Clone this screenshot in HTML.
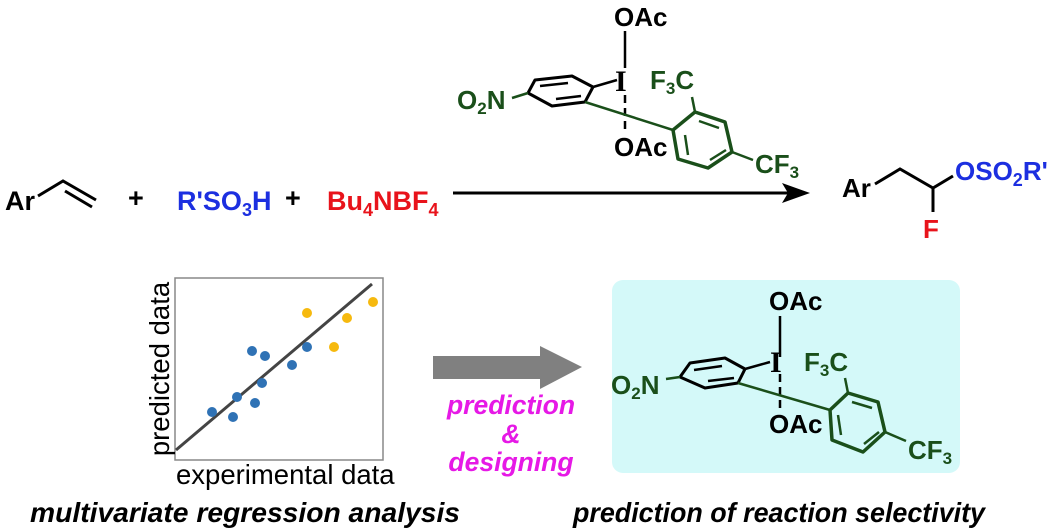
<!DOCTYPE html>
<html><head><style>body{margin:0;background:#fff}svg{display:block}</style></head>
<body>
<svg width="1063" height="530" viewBox="0 0 1063 530" font-family="Liberation Sans, sans-serif">
<g font-weight="bold" font-size="27">
<text x="5" y="210" fill="#000">Ar</text>
<text x="128" y="207" fill="#000">+</text>
<text x="177" y="210" fill="#1c2fe0">R'SO<tspan font-size="18" dy="6">3</tspan><tspan dy="-6">H</tspan></text>
<text x="285" y="207" fill="#000">+</text>
<text x="327" y="210" fill="#e8131b">Bu<tspan font-size="18" dy="6">4</tspan><tspan dy="-6">NBF</tspan><tspan font-size="18" dy="6">4</tspan></text>
</g>
<g stroke="#000" stroke-width="3" fill="none">
<polyline points="38,196 63,181 96,200"/>
<line x1="65" y1="191" x2="92" y2="207"/>
</g>
<line x1="453" y1="193" x2="790" y2="193" stroke="#000" stroke-width="3"/>
<polygon points="810,193 782,183 788,193 782,203" fill="#000"/>
<g stroke="#000" stroke-width="3" fill="none"><polyline points="875,184 900,169 933,188 953,176"/><line x1="933" y1="188" x2="933" y2="212"/></g>
<g font-weight="bold" font-size="26">
<text x="842" y="197">Ar</text>
<text x="955" y="180" fill="#1c2fe0">OSO<tspan font-size="18" dy="6">2</tspan><tspan dy="-6">R'</tspan></text>
<text x="923" y="238" fill="#e8131b">F</text>
</g>
<g>
<g font-weight="bold" font-size="26" fill="#000"><text x="614" y="26">OAc</text><text x="614" y="156">OAc</text></g>
<line x1="625" y1="31" x2="625" y2="68" stroke="#000" stroke-width="2.5"/>
<line x1="625" y1="95" x2="625" y2="132" stroke="#000" stroke-width="2.5" stroke-dasharray="8,5"/>
<text x="615" y="91" font-family="Liberation Serif, serif" font-weight="bold" font-size="30">I</text>
<g fill="#1a4f1a" font-weight="bold" font-size="26"><text x="457" y="109">O<tspan font-size="17" dy="5">2</tspan><tspan dy="-5">N</tspan></text><text x="650" y="89">F<tspan font-size="17" dy="5">3</tspan><tspan dy="-5">C</tspan></text><text x="755" y="173">CF<tspan font-size="17" dy="5">3</tspan></text></g>
<g stroke="#1a4f1a" stroke-width="2.5" fill="none" stroke-linejoin="round">
<polygon points="528,93 535,80 572,76 593,87 585,102 552,106" stroke="#000" stroke-width="3"/>
<line x1="540" y1="86" x2="568" y2="83" stroke="#000"/><line x1="556" y1="99" x2="581" y2="96" stroke="#000"/>
<line x1="512" y1="98" x2="528" y2="93"/>
<line x1="593" y1="87" x2="617" y2="80" stroke="#000"/>
<line x1="585" y1="102" x2="673" y2="130"/>
<polygon points="673,130 695,112 725,122 732,152 708,168 678,159" stroke-width="3.5"/>
<line x1="699" y1="121" x2="719" y2="128"/><line x1="685" y1="135" x2="688" y2="155"/><line x1="710" y1="160" x2="726" y2="150"/>
<line x1="695" y1="112" x2="692" y2="97"/><line x1="732" y1="152" x2="753" y2="160"/>
</g>
</g>
<rect x="175" y="278" width="208" height="182" fill="#fff" stroke="#888" stroke-width="1.5"/>
<line x1="176" y1="450" x2="372" y2="284" stroke="#444" stroke-width="3"/>
<g fill="#2f72b5"><circle cx="212" cy="412" r="5"/><circle cx="233" cy="417" r="5"/><circle cx="237" cy="397" r="5"/><circle cx="255" cy="403" r="5"/><circle cx="252" cy="351" r="5"/><circle cx="265" cy="356" r="5"/><circle cx="262" cy="383" r="5"/><circle cx="292" cy="365" r="5"/><circle cx="307" cy="347" r="5"/></g>
<g fill="#f6b90e"><circle cx="307" cy="313" r="5"/><circle cx="347" cy="318" r="5"/><circle cx="334" cy="347" r="5"/><circle cx="373" cy="302" r="5"/></g>
<text x="176" y="484" font-size="27.5">experimental data</text>
<text transform="translate(169,369) rotate(-90)" text-anchor="middle" font-size="27.5">predicted data</text>
<rect x="433" y="356" width="110" height="23" fill="#808080"/>
<polygon points="540,346 582,367 540,389" fill="#808080"/>
<g fill="#e619e6" font-weight="bold" font-style="italic" font-size="26.5" text-anchor="middle"><text x="511" y="414">prediction</text><text x="511" y="443">&amp;</text><text x="511" y="471">designing</text></g>
<rect x="612" y="280" width="348" height="193" rx="11" fill="#d4f9f9"/>
<g>
<g font-weight="bold" font-size="26" fill="#000"><text x="769" y="310">OAc</text><text x="769" y="433">OAc</text></g>
<line x1="780" y1="316" x2="780" y2="357" stroke="#000" stroke-width="2.5"/>
<line x1="780" y1="374" x2="780" y2="410" stroke="#000" stroke-width="2.5" stroke-dasharray="8,5"/>
<text x="770" y="372" font-family="Liberation Serif, serif" font-weight="bold" font-size="30">I</text>
<g fill="#1a4f1a" font-weight="bold" font-size="26"><text x="611" y="394">O<tspan font-size="17" dy="5">2</tspan><tspan dy="-5">N</tspan></text><text x="804" y="371">F<tspan font-size="17" dy="5">3</tspan><tspan dy="-5">C</tspan></text><text x="908" y="459">CF<tspan font-size="17" dy="5">3</tspan></text></g>
<g stroke="#1a4f1a" stroke-width="2.5" fill="none" stroke-linejoin="round">
<polygon points="680,377 690,363 725,358 745,369 738,383 705,388" stroke="#000" stroke-width="3"/>
<line x1="694" y1="370" x2="722" y2="366" stroke="#000"/><line x1="708" y1="381" x2="734" y2="378" stroke="#000"/>
<line x1="666" y1="379" x2="680" y2="377"/>
<line x1="745" y1="369" x2="770" y2="362" stroke="#000"/>
<line x1="738" y1="383" x2="830" y2="410"/>
<polygon points="830,410 848,393 878,402 885,432 863,452 832,440" stroke-width="3.5"/>
<line x1="852" y1="402" x2="872" y2="408"/><line x1="838" y1="415" x2="841" y2="435"/><line x1="864" y1="444" x2="879" y2="432"/>
<line x1="848" y1="393" x2="845" y2="378"/><line x1="885" y1="432" x2="906" y2="441"/>
</g>
</g>
<g font-weight="bold" font-style="italic" font-size="28"><text x="30" y="522" textLength="430" lengthAdjust="spacingAndGlyphs">multivariate regression analysis</text><text x="573" y="522" textLength="412" lengthAdjust="spacingAndGlyphs">prediction of reaction selectivity</text></g>
</svg>
</body></html>
